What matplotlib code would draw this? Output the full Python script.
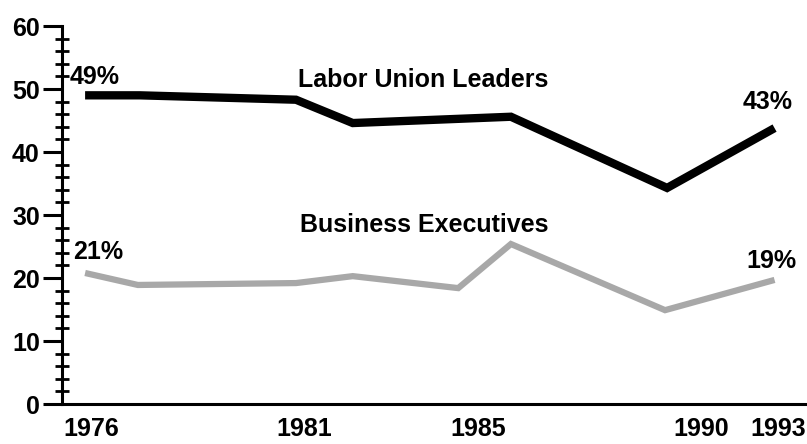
import matplotlib
matplotlib.use('Agg')
import matplotlib.pyplot as plt
from matplotlib.ticker import MultipleLocator

# ── Data ──────────────────────────────────────────────────────────────────────
labor_x = [1976.0, 1977.35, 1981.2, 1982.6, 1986.5, 1990.35, 1993.0]
labor_y = [49.0, 49.0, 48.3, 44.6, 45.6, 34.3, 43.8]

biz_x = [1976.0, 1977.3, 1981.2, 1982.6, 1985.2, 1986.5, 1990.3, 1993.0]
biz_y = [20.8, 18.9, 19.2, 20.3, 18.4, 25.4, 14.9, 19.7]

year_ticks  = [1976.15, 1981.4, 1985.7, 1991.2, 1993.1]
year_labels = ['1976', '1981', '1985', '1990', '1993']

y_ticks = [0, 10, 20, 30, 40, 50, 60]

# ── Figure ────────────────────────────────────────────────────────────────────
plt.rcParams['font.family'] = ['Liberation Sans', 'DejaVu Sans']
plt.rcParams['font.weight'] = 'bold'

fig = plt.figure(figsize=(8.07, 4.44), dpi=100)
ax = fig.add_axes([0.0768, 0.090, 0.9232, 0.8514])

ax.plot(labor_x, labor_y, color='black', linewidth=6, solid_joinstyle='miter',
        solid_capstyle='butt', zorder=3)
ax.plot(biz_x, biz_y, color='#a8a8a8', linewidth=4.5, solid_joinstyle='miter',
        solid_capstyle='butt', zorder=2)

fs = 18
ax.text(1975.62, 51.9, '49%', fontsize=fs, fontweight='bold', va='center', ha='left')
ax.text(1981.25, 51.4, 'Labor Union Leaders', fontsize=fs, fontweight='bold',
        va='center', ha='left')
ax.text(1992.22, 47.9, '43%', fontsize=fs, fontweight='bold', va='center', ha='left',
        clip_on=False)
ax.text(1975.7, 24.1, '21%', fontsize=fs, fontweight='bold', va='center', ha='left')
ax.text(1981.3, 28.4, 'Business Executives', fontsize=fs, fontweight='bold',
        va='center', ha='left')
ax.text(1992.3, 22.7, '19%', fontsize=fs, fontweight='bold', va='center', ha='left',
        clip_on=False)

ax.set_xlim(1975.43, 1993.8)
ax.set_ylim(0, 60)

ax.set_yticks(y_ticks)
ax.set_yticklabels([str(v) for v in y_ticks], fontsize=fs, fontweight='bold')
ax.yaxis.set_minor_locator(MultipleLocator(2))
ax.tick_params(axis='y', which='major', direction='out', length=14, width=2.2, pad=2)
ax.tick_params(axis='y', which='minor', direction='inout', length=10, width=2)

ax.set_xticks(year_ticks)
ax.set_xticklabels(year_labels, fontsize=fs, fontweight='bold')
ax.tick_params(axis='x', which='both', length=0, pad=9)

ax.spines['top'].set_visible(False)
ax.spines['right'].set_visible(False)
ax.spines['left'].set_linewidth(2.2)
ax.spines['bottom'].set_linewidth(2.2)
ax.spines['left'].set_zorder(4)

fig.savefig('out.png', dpi=100)
plt.close(fig)
